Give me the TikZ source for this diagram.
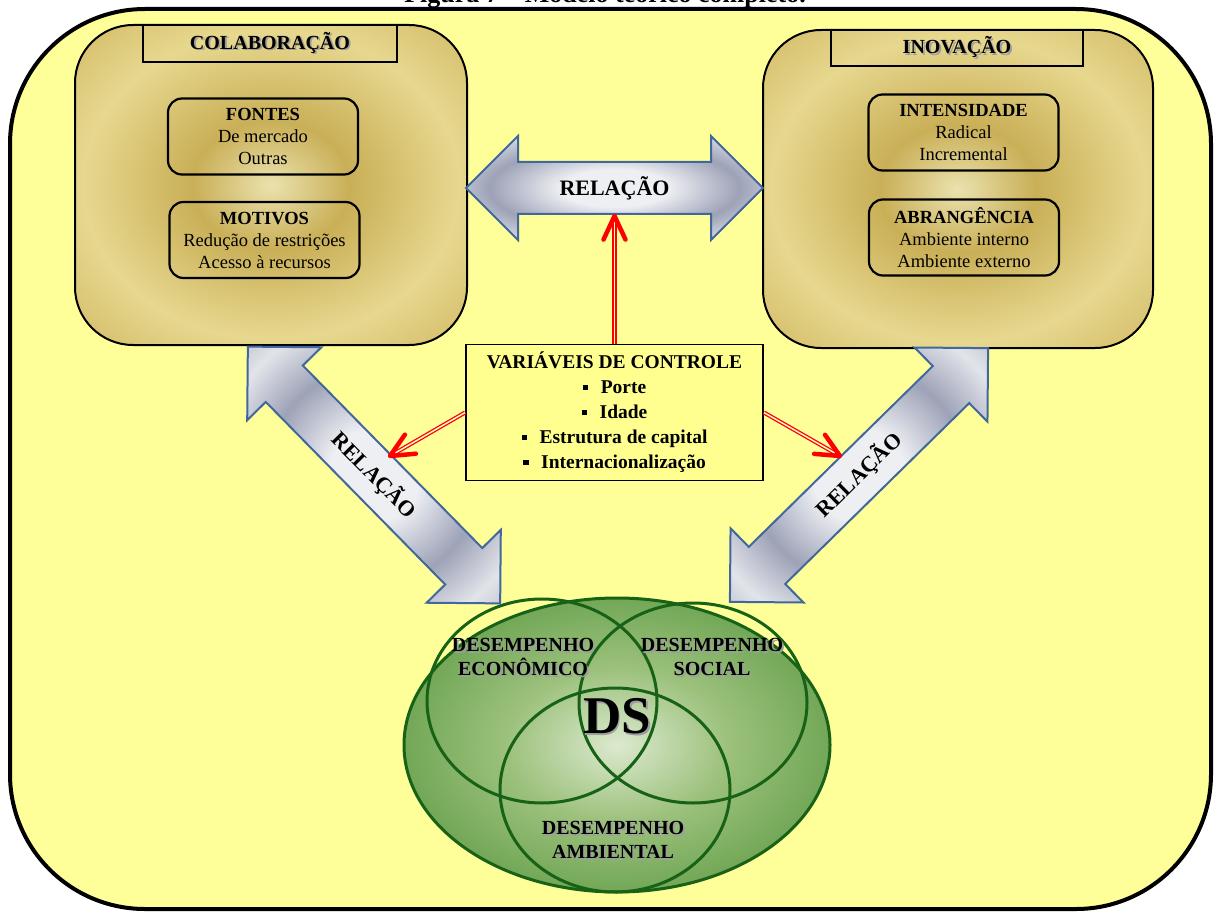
\documentclass[tikz,border=0pt]{standalone}
\usepackage{fontspec}
\setmainfont{Liberation Serif}
\usetikzlibrary{calc,shapes.geometric}

% palette
\definecolor{frameyellow}{HTML}{FFFF99}
\definecolor{ctrlyellow}{HTML}{FFFF90}
\definecolor{gA}{HTML}{EAE2AE}
\definecolor{gB}{HTML}{C9AF57}
\definecolor{gC}{HTML}{E7D88F}
\definecolor{gD}{HTML}{C5A94C}
\definecolor{gE}{HTML}{D6C27C}
\definecolor{gF}{HTML}{E2D3A0}
\definecolor{sA}{HTML}{EEEFF3}
\definecolor{sB}{HTML}{9DA2B7}
\definecolor{sC}{HTML}{E2E4EA}
\definecolor{sD}{HTML}{787F98}
\definecolor{arrowblue}{HTML}{41689C}
\definecolor{vA}{HTML}{DCE9CE}
\definecolor{vB}{HTML}{9CC17C}
\definecolor{vC}{HTML}{619D47}
\definecolor{vD}{HTML}{47852F}
\definecolor{vE}{HTML}{3A7625}
\definecolor{vennline}{HTML}{176217}

% shadings
\pgfdeclareradialshading{goldring}{\pgfpoint{0bp}{0bp}}{color(0bp)=(gA); color(10bp)=(gB); color(24bp)=(gC); color(42bp)=(gD); color(50bp)=(gE); color(72bp)=(gF)}
\pgfdeclareradialshading{silver}{\pgfpoint{0bp}{0bp}}{color(0bp)=(sA); color(9bp)=(sA); color(21bp)=(sB); color(31bp)=(sC); color(50bp)=(sD); color(72bp)=(sD)}
\pgfdeclareradialshading{venngreen}{\pgfpoint{0bp}{0bp}}{color(0bp)=(vA); color(13bp)=(vB); color(30bp)=(vC); color(42bp)=(vD); color(50bp)=(vE); color(72bp)=(vE)}

% text with a soft drop shadow
\newcommand\shadowed[1]{{\leavevmode\rlap{\kern1.8pt\raisebox{-1.8pt}{\color{black!38}#1}}#1}}
% small square bullet
\newcommand\sqbullet{\rule[3.5pt]{5.5pt}{5.5pt}\hspace{12.5pt}}

% double-headed "RELAÇÃO" arrow: name, centre, angle, half length
\newcommand\relationarrow[4]{%
  \begin{scope}[shift={#2}, rotate=#3]
    \path[relarrow] (-#4,0) -- (-#4+52,52) -- (-#4+52,26) -- (#4-52,26) -- (#4-52,52)
      -- (#4,0) -- (#4-52,-52) -- (#4-52,-26) -- (-#4+52,-26) -- (-#4+52,-52) -- cycle;
    \node[reltext, rotate=#3] (#1) at (0,0) {RELAÇÃO};
  \end{scope}}

\tikzset{
  frame/.style={draw=black, line width=4pt, fill=frameyellow, rounded corners=135pt, inner sep=0pt},
  goldbox/.style={draw=black, line width=2pt, shading=goldring, rounded corners=58pt, inner sep=0pt},
  tabbox/.style={draw=black, line width=1.5pt, inner sep=0pt, font=\bfseries\fontsize{20}{24}\selectfont},
  innerbox/.style={draw=black, line width=2.2pt, rounded corners=14pt, inner sep=0pt,
    minimum width=190pt, minimum height=76pt, align=center, font=\fontsize{18.5}{22}\selectfont},
  relarrow/.style={draw=arrowblue, line width=2pt, line join=miter, shading=silver},
  reltext/.style={font=\bfseries\fontsize{22}{26}\selectfont, inner sep=0pt},
  ctrlbox/.style={draw=black, line width=1.8pt, fill=ctrlyellow, minimum width=297pt, minimum height=136pt,
    inner sep=0pt, align=center, font=\bfseries\fontsize{19.5}{25}\selectfont},
  ctrlline/.style={draw=red, line width=1.3pt, double=yellow!20, double distance=1.5pt},
  ctrlhead/.style={draw=red, line width=4.5pt, line cap=round, line join=round},
  venncircle/.style={ellipse, draw=vennline, line width=3pt, inner sep=0pt},
  venntext/.style={align=center, font=\bfseries\fontsize{20}{24}\selectfont, inner sep=0pt},
}

\begin{document}
\begin{tikzpicture}[x=1pt, y=-1pt]
\useasboundingbox (0,0) rectangle (1215,912);
\fill[white] (0,0) rectangle (1215,912);

% outer frame and caption
\node[frame, minimum width=1201pt, minimum height=900pt] (frame) at (610.5,459) {};
\node[anchor=base, font=\bfseries\fontsize{26}{30}\selectfont, inner sep=0pt] (caption) at (605,2.5)
  {Figura 7 – Modelo teórico completo.};

% collaboration block
\node[goldbox, minimum width=392pt, minimum height=320pt] (colab) at (271,185) {};
\node[tabbox, minimum width=254pt, minimum height=37pt] (colabTab) at (270,43.5) {\shadowed{COLABORAÇÃO}};
\node[innerbox] (fontes) at (263,136.5) {\textbf{FONTES}\\De mercado\\Outras};
\node[innerbox] (motivos) at (264.5,240) {\textbf{MOTIVOS}\\Redução de restrições\\Acesso à recursos};

% innovation block
\node[goldbox, minimum width=390pt, minimum height=318pt] (inov) at (958,189) {};
\node[tabbox, minimum width=252pt, minimum height=36pt] (inovTab) at (957,48) {\shadowed{INOVAÇÃO}};
\node[innerbox] (intens) at (963.5,132.5) {\textbf{INTENSIDADE}\\Radical\\Incremental};
\node[innerbox] (abrang) at (964,237.5) {\textbf{ABRANGÊNCIA}\\Ambiente interno\\Ambiente externo};

% sustainable development diagram
\node[venncircle, shading=venngreen, minimum width=426pt, minimum height=294pt] (dsArea) at (617,745) {};
\node[venncircle, minimum width=230pt, minimum height=204pt] (econ) at (542,701) {};
\node[venncircle, minimum width=228pt, minimum height=200pt] (social) at (693,703) {};
\node[venncircle, minimum width=230pt, minimum height=204pt] (amb) at (615,790) {};
\node[venntext] (econTxt) at (523,658) {\shadowed{DESEMPENHO}\\\shadowed{ECONÔMICO}};
\node[venntext] (socialTxt) at (712,658) {\shadowed{DESEMPENHO}\\\shadowed{SOCIAL}};
\node[venntext] (ambTxt) at (613,841) {\shadowed{DESEMPENHO}\\\shadowed{AMBIENTAL}};
\node[venntext, font=\bfseries\fontsize{53}{60}\selectfont] (ds) at (617,717) {\shadowed{DS}};

% relation arrows
\relationarrow{relTop}{(614.5,188)}{0}{148.5}
\relationarrow{relLeft}{(374,475)}{-45.5}{180}
\relationarrow{relRight}{(859,475)}{44.5}{181}

% control variables
\node[ctrlbox] (ctrl) at (614.5,412.5)
  {VARIÁVEIS DE CONTROLE\\\sqbullet Porte\\\sqbullet Idade\\\sqbullet Estrutura de capital\\\sqbullet Internacionalização};

\coordinate (tipUp) at (614.5,216);
\coordinate (tipLeft) at (390,456);
\coordinate (tipRight) at (840,456);

\draw[ctrlline] (ctrl.north) -- (tipUp);
\draw[ctrlline] (ctrl.west) -- (tipLeft);
\draw[ctrlline] (ctrl.east) -- (tipRight);
\draw[ctrlhead] ($(tipUp)!26pt!25:(ctrl.north)$) -- (tipUp) -- ($(tipUp)!26pt!-25:(ctrl.north)$);
\draw[ctrlhead] ($(tipLeft)!26pt!25:(ctrl.west)$) -- (tipLeft) -- ($(tipLeft)!26pt!-25:(ctrl.west)$);
\draw[ctrlhead] ($(tipRight)!26pt!25:(ctrl.east)$) -- (tipRight) -- ($(tipRight)!26pt!-25:(ctrl.east)$);
\end{tikzpicture}
\end{document}
